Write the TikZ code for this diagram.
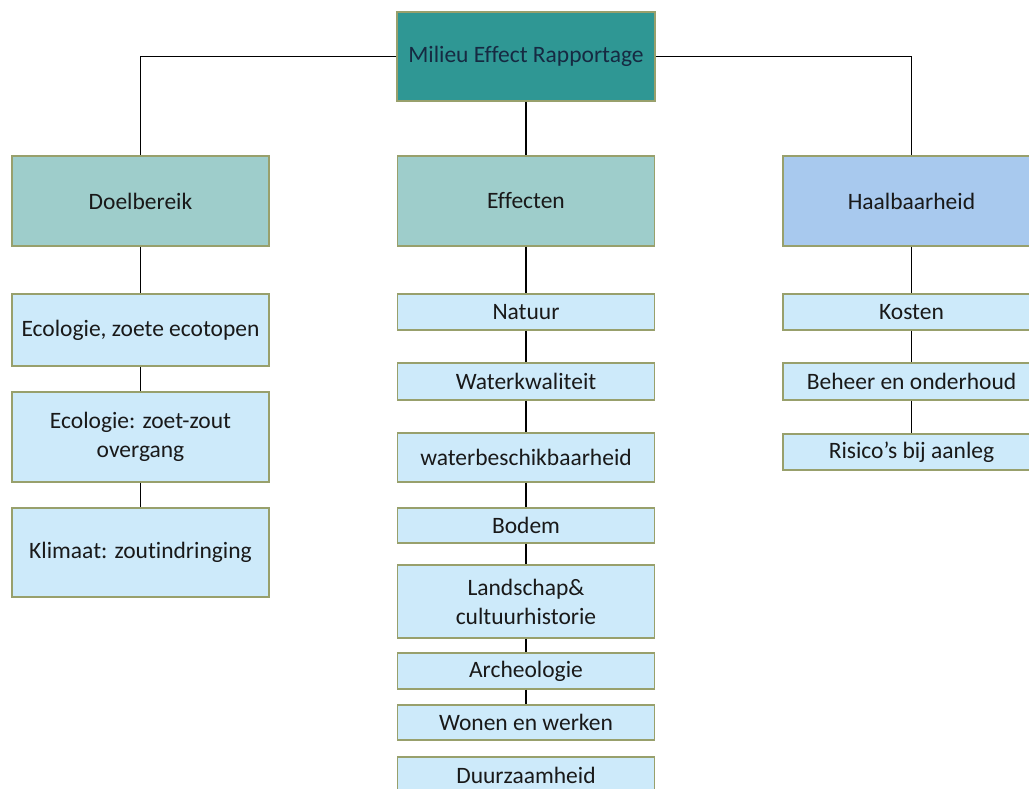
\documentclass[tikz,border=0pt]{standalone}
\usepackage{fontspec}
\setmainfont[Ligatures=NoCommon]{Carlito}
\usepackage{tikz}
\usetikzlibrary{positioning, calc}
\definecolor{mertealdark}{RGB}{47,151,148}
\definecolor{merteal}{RGB}{158,205,203}
\definecolor{haalblue}{RGB}{168,201,238}
\definecolor{itemblue}{RGB}{205,234,250}
\definecolor{bordercolor}{RGB}{152,160,108}
\definecolor{textdark}{RGB}{25,25,25}
\definecolor{textnavy}{RGB}{22,42,66}
\tikzset{
  base/.style={draw=bordercolor, line width=1.2pt, align=center,
               font=\fontsize{23.5}{29}\selectfont, text=textdark,
               minimum width=257pt, inner sep=2pt},
  root/.style  = {base, fill=mertealdark, text=textnavy, minimum width=258pt, minimum height=89pt},
  main/.style  = {base, fill=merteal, minimum height=90pt},
  haal/.style  = {base, fill=haalblue, minimum height=90pt},
  item/.style  = {base, fill=itemblue},
  conn/.style  = {line width=1.4pt, color=black},
}

\begin{document}
\begin{tikzpicture}[x=1pt, y=-1pt]
  \clip (0,0) rectangle (1029,789);
  \fill[white] (0,0) rectangle (1029,789);

  % top
  \node[root] (mer) at (526,56.5) {Milieu Effect Rapportage};
  \node[main] (doel) at (140.5,201) {Doelbereik};
  \node[main] (eff)  at (526,201)   {Effecten};
  \node[haal] (haal) at (911.5,201) {Haalbaarheid};

  % doelbereik
  \node[item, minimum height=72pt] (eco1) at (140.5,330)   {Ecologie, zoete ecotopen};
  \node[item, minimum height=90pt] (eco2) at (140.5,437)   {Ecologie: zoet-zout\\overgang};
  \node[item, minimum height=89pt] (klim) at (140.5,552.5) {Klimaat: zoutindringing};

  % effecten
  \node[item, minimum height=36pt] (natuur) at (526,312)   {Natuur};
  \node[item, minimum height=37pt] (wkw)    at (526,381.5) {Waterkwaliteit};
  \node[item, minimum height=49pt] (wbs)    at (526,457.5) {waterbeschikbaarheid};
  \node[item, minimum height=35pt] (bodem)  at (526,525.5) {Bodem};
  \node[item, minimum height=73pt] (land)   at (526,601.5) {Landschap\&\\cultuurhistorie};
  \node[item, minimum height=36pt] (arch)   at (526,671)   {Archeologie};
  \node[item, minimum height=35pt] (wonen)  at (526,722.5) {Wonen en werken};
  \node[item, minimum height=36pt] (duurz)  at (526,775)   {Duurzaamheid};

  % haalbaarheid
  \node[item, minimum height=36pt] (kosten) at (911.5,312)   {Kosten};
  \node[item, minimum height=37pt] (beheer) at (911.5,381.5) {Beheer en onderhoud};
  \node[item, minimum height=36pt] (risico) at (911.5,452)   {Risico’s bij aanleg};

  \draw[conn] (mer.west) -| (doel.north);
  \draw[conn] (mer.east) -| (haal.north);
  \draw[conn] (mer) -- (eff);
  \draw[conn] (doel) -- (eco1) (eco1) -- (eco2) (eco2) -- (klim);
  \foreach \a/\b in {eff/natuur, natuur/wkw, wkw/wbs, wbs/bodem,
                     bodem/land, land/arch, arch/wonen}
    \draw[conn] (\a) -- (\b);
  \draw[conn] (haal) -- (kosten) (kosten) -- (beheer) (beheer) -- (risico);
\end{tikzpicture}
\end{document}
